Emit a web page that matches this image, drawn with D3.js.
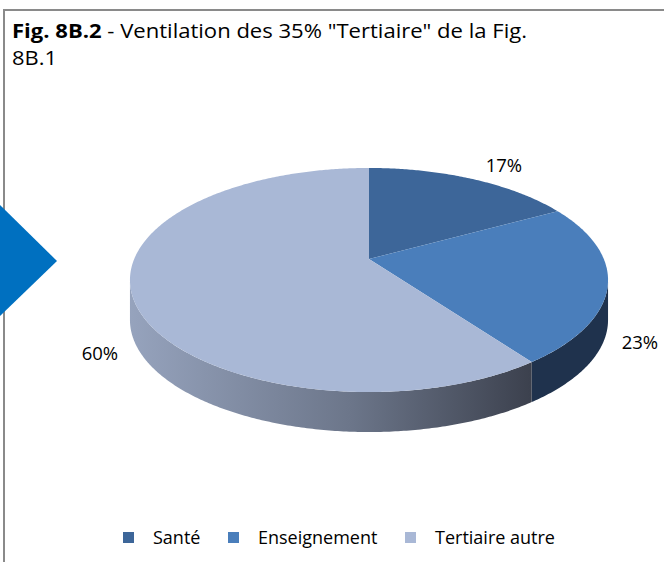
<!DOCTYPE html>
<html>
<head>
<meta charset="utf-8">
<script src="https://cdn.jsdelivr.net/npm/d3@7"></script>
<style>
  html, body { margin: 0; padding: 0; background: #fff; }
  svg { display: block; }
  text { font-family: "Open Sans", Lato, sans-serif; fill: #000; }
</style>
</head>
<body>
<svg id="chart" width="664" height="562"></svg>
<script>
// Breakdown of the tertiary sector
const categories = ["Santé", "Enseignement", "Tertiaire autre"];
const values = [17, 23, 60];
const valueLabels = ["17%", "23%", "60%"];
const topColors = ["#3D6699", "#4A7EBB", "#A9B8D6"];
const sideColors = ["#253D5C", "#1F324D", "url(#sideGrad)"];

const svg = d3.select("#chart");

// Frame of the figure box (open on the right and bottom)
svg.append("path")
  .attr("d", "M4,562 L4,10 L664,10")
  .attr("fill", "none")
  .attr("stroke", "#8A8A8A")
  .attr("stroke-width", 2);

// Title, two lines
const title = svg.append("text")
  .attr("x", 12).attr("y", 38)
  .attr("textLength", 515).attr("lengthAdjust", "spacingAndGlyphs")
  .style("font-size", "19.5px");
title.append("tspan").attr("font-weight", "bold").text("Fig. 8B.2");
title.append("tspan").text(" - Ventilation des 35% \"Tertiaire\" de la Fig.");
svg.append("text")
  .attr("x", 12).attr("y", 65)
  .attr("textLength", 45).attr("lengthAdjust", "spacingAndGlyphs")
  .style("font-size", "19.5px").text("8B.1");

// Pointer arrow on the left edge
svg.append("path")
  .attr("d", "M0,205 L57,261 L0,316 Z")
  .attr("fill", "#0070C0");

// 3D pie: a tilted disc seen in perspective
const cx = 369, cy = 259;   // projected centre of the disc
const A = 234.8, B = 108.1; // horizontal / depth scale
const p = 0.1875;           // perspective strength
const depth = 40;           // thickness of the disc

function proj(phi, r = 1, drop = 0) {
  const X = r * Math.sin(phi), Z = -r * Math.cos(phi);
  const w = 1 - p * Z;
  return [cx + A * X / w, cy + B * Z / w + drop];
}

function arcPoints(a0, a1, drop) {
  const n = Math.max(2, Math.ceil(Math.abs(a1 - a0) / 0.01));
  return d3.range(n + 1).map(i => proj(a0 + (a1 - a0) * i / n, 1, drop));
}

const arcs = d3.pie().sort(null).value(d => d)(values);

const defs = svg.append("defs");
const grad = defs.append("linearGradient")
  .attr("id", "sideGrad")
  .attr("gradientUnits", "userSpaceOnUse")
  .attr("x1", 130).attr("y1", 0).attr("x2", 530).attr("y2", 0);
grad.append("stop").attr("offset", "0%").attr("stop-color", "#96A3BD");
grad.append("stop").attr("offset", "55%").attr("stop-color", "#6C768A");
grad.append("stop").attr("offset", "100%").attr("stop-color", "#3C414E");

// Visible front wall lies between the silhouette points of the disc
const frontStart = Math.acos(-p);             // right silhouette
const frontEnd = 2 * Math.PI - Math.acos(-p); // left silhouette

const line = d3.line();

// Side walls
arcs.forEach((a, i) => {
  const s = Math.max(a.startAngle, frontStart);
  const e = Math.min(a.endAngle, frontEnd);
  if (e <= s) return;
  const top = arcPoints(s, e, 0);
  const bottom = arcPoints(e, s, depth);
  svg.append("path")
    .attr("d", line(top.concat(bottom)) + "Z")
    .attr("fill", sideColors[i]);
});

// Top faces
arcs.forEach((a, i) => {
  const pts = [proj(0, 0)].concat(arcPoints(a.startAngle, a.endAngle, 0));
  svg.append("path")
    .attr("d", line(pts) + "Z")
    .attr("fill", topColors[i]);
});

// Value labels placed diagonally outside each slice
arcs.forEach((a, i) => {
  const mid = (a.startAngle + a.endAngle) / 2;
  const X = Math.sin(mid), Z = -Math.cos(mid);
  const [x, y] = proj(mid, 1, Z > 0 ? depth : 0);
  svg.append("text")
    .attr("x", x + Math.sign(X) * 32)
    .attr("y", y + Math.sign(Z) * 16 + 2)
    .attr("text-anchor", "middle")
    .attr("dominant-baseline", "central")
    .style("font-size", "18.5px")
    .text(valueLabels[i]);
});

// Legend
const legendX = [123, 228, 405];
const legend = svg.append("g");
categories.forEach((c, i) => {
  legend.append("rect")
    .attr("x", legendX[i]).attr("y", 532)
    .attr("width", 11).attr("height", 11)
    .attr("fill", topColors[i]);
  legend.append("text")
    .attr("x", legendX[i] + 30).attr("y", 537)
    .attr("dominant-baseline", "central")
    .style("font-size", "18px")
    .text(c);
});
</script>
</body>
</html>
